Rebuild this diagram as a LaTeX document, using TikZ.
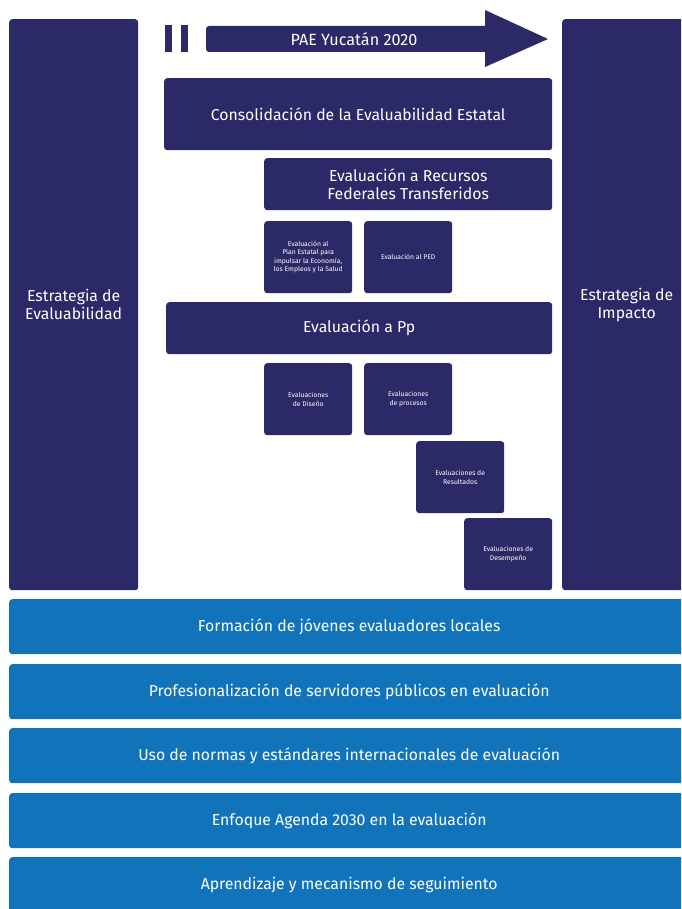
\documentclass[tikz,border=0pt]{standalone}
\usepackage{fontspec}
\setmainfont{Fira Sans}
\usetikzlibrary{positioning}
\definecolor{navy}{RGB}{43,41,103}
\definecolor{azul}{RGB}{17,116,187}
\tikzset{
panel/.style={fill=navy,text=white,rounded corners=3pt,anchor=north west,align=center,inner sep=0pt,font=\fontsize{15.8}{18}\selectfont},
cajita/.style={panel,minimum width=88pt,minimum height=72pt,font=\fontsize{6.8}{8.4}\selectfont},
franja/.style={panel,fill=azul,minimum width=680pt,minimum height=55pt},
}
\tikzstyle{barra} = [fill=navy]

\begin{document}
\begin{tikzpicture}[x=1pt,y=-1pt]
\useasboundingbox (0,0) rectangle (681,909);
\clip (0,0) rectangle (681,909);
\node[panel,minimum width=129pt,minimum height=571pt] (evaluabilidad) at (9,19) {Estrategia de\\Evaluabilidad};
\node[panel,minimum width=129pt,minimum height=571pt] (impacto) at (562,19) {Estrategia de\\Impacto};
\fill[barra] (165,25) rectangle (172,52);
\fill[barra] (181,25) rectangle (188,52);
\fill[barra,rounded corners=3pt] (206,26) rectangle (492,52);
\fill[barra] (485,10) -- (548,39) -- (485,67) -- cycle;
\node[text=white,font=\fontsize{16.2}{18}\selectfont] (pae) at (354,39) {PAE Yucatán 2020};
\node[panel,minimum width=388pt,minimum height=72pt] (consolidacion) at (164,78) {Consolidación de la Evaluabilidad Estatal};
\node[panel,minimum width=288pt,minimum height=52pt] (recursos) at (264,158) {Evaluación a Recursos\\Federales Transferidos};
\node[cajita] (plan) at (264,221) {Evaluación al\\Plan Estatal para\\impulsar la Economía,\\los Empleos y la Salud};
\node[cajita] (ped) at (364,221) {Evaluación al PED};
\node[panel,minimum width=386pt,minimum height=52pt] (pp) at (166,302) {Evaluación a Pp};
\node[cajita] (diseno) at (264,363) {Evaluaciones\\de Diseño};
\node[cajita] (procesos) at (364,363) {Evaluaciones\\de procesos};
\node[cajita] (resultados) at (416,441) {Evaluaciones de\\Resultados};
\node[cajita] (desempeno) at (464,518) {Evaluaciones de\\Desempeño};
\node[franja] (formacion) at (9,599) {Formación de jóvenes evaluadores locales};
\node[franja] (profesionalizacion) at (9,664) {Profesionalización de servidores públicos en evaluación};
\node[franja] (normas) at (9,728) {Uso de normas y estándares internacionales de evaluación};
\node[franja] (agenda) at (9,793) {Enfoque Agenda 2030 en la evaluación};
\node[franja] (aprendizaje) at (9,857) {Aprendizaje y mecanismo de seguimiento};
\end{tikzpicture}
\end{document}
